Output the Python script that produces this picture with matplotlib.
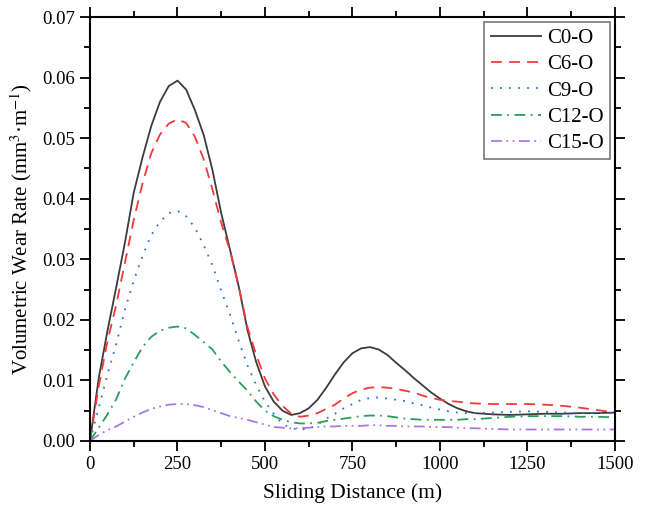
import matplotlib
matplotlib.use("Agg")
import matplotlib.pyplot as plt
import numpy as np

plt.rcParams["font.family"] = ["Liberation Serif", "DejaVu Serif"]
plt.rcParams["mathtext.fontset"] = "stix"

# sliding distance (m)
distance = list(range(0, 1101, 25)) + list(range(1150, 1501, 50))

c0 = [0, 0.0104, 0.0182, 0.0254, 0.0328, 0.0410, 0.0468, 0.0520, 0.0560, 0.0586,
      0.0595, 0.0580, 0.0546, 0.0505, 0.0447, 0.0376, 0.0316, 0.0255, 0.0183, 0.0130,
      0.0090, 0.0065, 0.0050, 0.0043, 0.0046, 0.0054, 0.0068, 0.0088, 0.0110, 0.0130,
      0.0145, 0.0153, 0.0155, 0.0151, 0.0142, 0.0129, 0.0117, 0.0104, 0.0092, 0.0080,
      0.0070, 0.0061, 0.0054, 0.0049, 0.0046,
      0.0044, 0.0043, 0.0044, 0.0045, 0.0045, 0.0046, 0.0046, 0.0047]
c6 = [0, 0.0090, 0.0165, 0.0225, 0.0295, 0.0365, 0.0425, 0.0475, 0.0506, 0.0524,
      0.0531, 0.0525, 0.0502, 0.0465, 0.0415, 0.0360, 0.0314, 0.0255, 0.0188, 0.0142,
      0.0103, 0.0077, 0.0058, 0.0045, 0.0040, 0.0042, 0.0046, 0.0053, 0.0060, 0.0070,
      0.0079, 0.0085, 0.0088, 0.0089, 0.0088, 0.0086, 0.0083, 0.0080, 0.0075, 0.0071,
      0.0068, 0.0066, 0.0065, 0.0063, 0.0062,
      0.0061, 0.0061, 0.0061, 0.0060, 0.0058, 0.0055, 0.0051, 0.0047]
c9 = [0, 0.0055, 0.0110, 0.0160, 0.0217, 0.0265, 0.0305, 0.0340, 0.0362, 0.0376,
      0.0380, 0.0371, 0.0352, 0.0323, 0.0290, 0.0248, 0.0209, 0.0165, 0.0125, 0.0092,
      0.0065, 0.0045, 0.0028, 0.0021, 0.0019, 0.0020, 0.0027, 0.0037, 0.0045, 0.0054,
      0.0061, 0.0068, 0.0071, 0.0072, 0.0070, 0.0068, 0.0066, 0.0062, 0.0059, 0.0055,
      0.0052, 0.0049, 0.0047, 0.0046, 0.0046,
      0.0047, 0.0048, 0.0049, 0.0048, 0.0047, 0.0046, 0.0046, 0.0046]
c12 = [0, 0.0022, 0.0044, 0.0069, 0.0103, 0.0130, 0.0155, 0.0172, 0.0182, 0.0187,
       0.0189, 0.0186, 0.0175, 0.0163, 0.0151, 0.0131, 0.0114, 0.0098, 0.0083, 0.0065,
       0.0050, 0.0041, 0.0035, 0.0031, 0.0029, 0.0029, 0.0030, 0.0033, 0.0035, 0.0037,
       0.0039, 0.0041, 0.0042, 0.0042, 0.0041, 0.0039, 0.0037, 0.0036, 0.0035, 0.0035,
       0.0035, 0.0035, 0.0035, 0.0036, 0.0036,
       0.0038, 0.0040, 0.0041, 0.0041, 0.0041, 0.0040, 0.0040, 0.0039]
c15 = [0, 0.0010, 0.0018, 0.0024, 0.0032, 0.0040, 0.0047, 0.0053, 0.0057, 0.0060,
       0.0061, 0.0061, 0.0059, 0.0056, 0.0051, 0.0046, 0.0041, 0.0038, 0.0035, 0.0031,
       0.0027, 0.0023, 0.0022, 0.0021, 0.0021, 0.0022, 0.0023, 0.0024, 0.0024, 0.0025,
       0.0025, 0.0025, 0.0026, 0.0026, 0.0025, 0.0025, 0.0024, 0.0024, 0.0024, 0.0023,
       0.0023, 0.0023, 0.0022, 0.0021, 0.0021,
       0.0020, 0.0019, 0.0019, 0.0019, 0.0019, 0.0019, 0.0019, 0.0019]

labels = ["C0-O", "C6-O", "C9-O", "C12-O", "C15-O"]
series = [c0, c6, c9, c12, c15]
colors = ["#3c3c3c", "#f23a3a", "#2a72e6", "#2a9e58", "#a978e2"]
styles = ["-", (0, (6, 4)), (0, (1, 4)), (0, (6, 3, 1, 3)), (0, (6, 2.5, 1, 2.5, 1, 2.5))]

fig = plt.figure(figsize=(6.46, 5.11), dpi=100)
ax = fig.add_axes([0.1393, 0.137, 0.8127, 0.8297])

for y, lab, col, ls in zip(series, labels, colors, styles):
    ax.plot(distance, y, color=col, linestyle=ls, lw=1.3, label=lab)

ax.set_xlim(0, 1500)
ax.set_ylim(0, 0.07)
ax.set_xticks(np.arange(0, 1501, 250))
ax.set_xticks(np.arange(125, 1500, 250), minor=True)
ax.set_yticks(np.arange(0, 0.0701, 0.01))
ax.set_yticks(np.arange(0.005, 0.07, 0.01), minor=True)
ax.yaxis.set_major_formatter(matplotlib.ticker.FormatStrFormatter("%.2f"))
ax.tick_params(which="both", direction="out", top=True, right=True, width=1.3, labelsize=13.5)
ax.tick_params(which="major", length=7)
ax.tick_params(which="minor", length=4)
for sp in ax.spines.values():
    sp.set_linewidth(1.5)

ax.set_xlabel("Sliding Distance (m)", fontsize=15.5, labelpad=8)
ax.set_ylabel(r"Volumetric Wear Rate (mm$^{3}$·m$^{-1}$)", fontsize=15, labelpad=6)

leg = ax.legend(loc="upper right", fontsize=15, frameon=True, fancybox=False,
                handlelength=2.4, borderpad=0.3, labelspacing=0.32, handletextpad=0.3,
                borderaxespad=0.25)
leg.get_frame().set_edgecolor("#555555")
leg.get_frame().set_linewidth(1.2)

fig.savefig("out.png", dpi=100)
